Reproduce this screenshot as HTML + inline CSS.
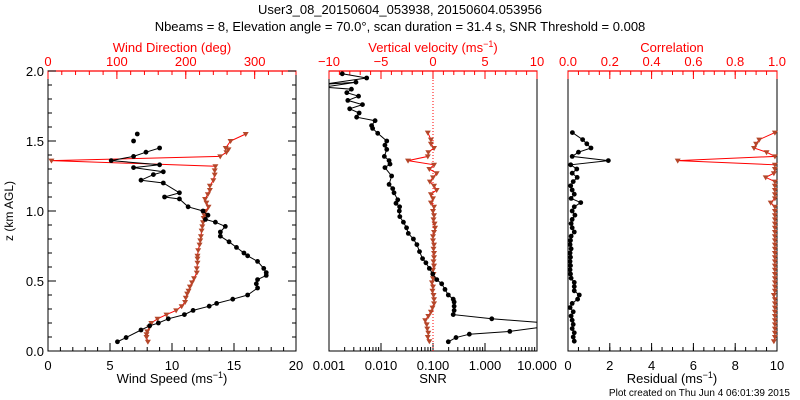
<!DOCTYPE html>
<html><head><meta charset="utf-8"><style>
html,body{margin:0;padding:0;background:#fff}
svg{display:block}
text{font-family:"Liberation Sans",sans-serif}
</style></head><body>
<svg id="c" width="800" height="400" viewBox="0 0 800 400">
<defs><clipPath id="clip2"><rect x="329" y="71" width="208" height="280"/></clipPath></defs>
<text x="400" y="14" text-anchor="middle" font-size="13">User3_08_20150604_053938, 20150604.053956</text>
<text x="400" y="31" text-anchor="middle" font-size="13">Nbeams = 8, Elevation angle = 70.0°, scan duration = 31.4 s, SNR Threshold = 0.008</text>
<text transform="translate(13,211) rotate(-90)" text-anchor="middle" font-size="12">z (km AGL)</text>
<text x="790" y="396" text-anchor="end" font-size="10">Plot created on Thu Jun  4 06:01:39 2015</text>
<g id="g"></g>
</svg>
<script>
// Panel 1 data
const wsZ = [0.066,0.096,0.15,0.18,0.2,0.23,0.26,0.29,0.32,0.34,0.37,0.4,0.45,0.48,0.51,0.54,0.56,0.59,0.64,0.68,0.70,0.74,0.78,0.82,0.85,0.89,0.92,0.94,0.97,1.0,1.03,1.086,1.1,1.13,1.2,1.22,1.26,1.28,1.31,1.33,1.36,1.39,1.42,1.45];
const windSpeed = [5.6,6.3,7.5,8.2,8.9,9.7,11,11.7,13,13.6,14.9,16.1,16.9,16.8,16.9,17.6,17.6,17.4,16.9,16.1,15.8,15.2,14.6,13.9,13.9,14.3,13.5,12.7,12.9,12.5,11.3,10.6,9.4,10.6,9.3,7.5,8.5,9.3,6.9,9.0,5.1,6.9,7.9,9.0];
const wsIsoZ = [1.5,1.55];
const wsIso = [6.9,7.2];
const wdZ = [0.066,0.1,0.12,0.14,0.17,0.2,0.23,0.26,0.29,0.32,0.35,0.38,0.41,0.43,0.46,0.49,0.52,0.56,0.59,0.63,0.66,0.68,0.72,0.76,0.79,0.82,0.86,0.89,0.92,0.95,0.97,1.0,1.03,1.06,1.086,1.12,1.15,1.18,1.22,1.26,1.29,1.32,1.36,1.39,1.42,1.44,1.45,1.5,1.55];
const windDir = [145,143,143,144,147,150,159,172,186,194,199,200,202,204,206,209,212,216,216,217,217,217,218,220,221,222,223,224,225,226,227,229,233,230,228,232,235,235,240,242,242,243,5,250,259,262,258,265,287];
// Panel 2 data
const snrZ = [0.066,0.096,0.12,0.14,0.17,0.2,0.23,0.26,0.29,0.32,0.35,0.37,0.40,0.44,0.48,0.51,0.55,0.59,0.63,0.66,0.71,0.76,0.80,0.84,0.88,0.92,0.96,1.0,1.03,1.055,1.08,1.13,1.16,1.19,1.25,1.31,1.335,1.36,1.39,1.44,1.47,1.50,1.555,1.59,1.61,1.645,1.67,1.70,1.73,1.76,1.79,1.82,1.845,1.87,1.885,1.92,1.905,1.95,1.98];
const snr = [0.197,0.277,0.50,3.0,12,15,1.35,0.245,0.255,0.255,0.255,0.245,0.197,0.17,0.147,0.118,0.099,0.085,0.073,0.063,0.055,0.049,0.042,0.0335,0.031,0.027,0.023,0.0225,0.0228,0.0194,0.021,0.0178,0.0168,0.0143,0.016,0.0119,0.0149,0.0143,0.0116,0.0129,0.0119,0.0129,0.00865,0.0069,0.0066,0.0077,0.0034,0.0038,0.0025,0.0044,0.0023,0.0037,0.0022,0.0027,0.0008,0.0033,0.0008,0.0053,0.0018];
const gridZ = [0.07,0.10,0.13,0.16,0.19,0.22,0.25,0.28,0.31,0.34,0.37,0.40,0.43,0.46,0.49,0.52,0.55,0.58,0.61,0.64,0.67,0.70,0.73,0.76,0.79,0.82,0.85,0.88,0.91,0.94,0.97,1.00,1.03,1.06,1.09,1.12,1.15,1.18,1.21,1.24,1.27,1.30,1.33,1.36,1.39,1.42,1.45,1.48,1.51,1.56];
const vertVel = [-0.35,-0.5,-0.45,-0.55,-0.6,-0.75,-0.45,-0.2,-0.05,0.1,0.1,0.05,-0.05,0,-0.1,0,0.05,0,0.1,0.05,0.1,0.1,0.05,0.1,0,0,0.1,0.2,0.15,0.05,0.1,0,0.1,-0.2,0,-0.2,0.35,0.1,-0.3,0,0.35,-0.35,0.1,-2.4,-0.5,-0.45,0.1,-0.2,-0.2,-0.5];
// Panel 3 data
const residual = [0.3,0.25,0.3,0.2,0.25,0.2,0.15,0.25,0.1,0.2,0.46,0.54,0.3,0.3,0.3,0.15,0.12,0.1,0.12,0.1,0.12,0.1,0.15,0.1,0.12,0.15,0.3,0.2,0.15,0.2,0.33,0.2,0.3,0.61,0.15,0.3,0.2,0.13,0.25,0.44,0.2,0.42,0.13,1.93,0.2,0.5,1.1,0.9,0.7,0.21];
const correlation = [0.985,0.99,0.99,0.99,0.99,0.99,0.99,0.99,0.99,0.99,0.99,0.985,0.99,0.99,0.99,0.99,0.99,0.99,0.99,0.99,0.99,0.99,0.99,0.99,0.99,0.99,0.99,0.99,0.99,0.99,0.99,0.99,0.99,0.97,0.99,0.99,0.99,0.99,0.99,0.946,0.985,0.99,0.99,0.525,0.99,0.95,0.89,0.9,0.915,0.99];
const wsTicks = ["0","5","10","15","20"];
const wdTicks = ["0","100","200","300"];
const snrTicks = ["0.001","0.010","0.100","1.000","10.000"];
const vvTicks = ["\u221210","\u22125","0","5","10"];
const resTicks = ["0","2","4","6","8","10"];
const corTicks = ["0.0","0.2","0.4","0.6","0.8","1.0"];
const zTicks = ["0.0","0.5","1.0","1.5","2.0"];

const NS='http://www.w3.org/2000/svg';
const G=document.getElementById('g');
const Y0=351,Y1=71;
const yS=z=>Y0-(z/2)*(Y0-Y1);
function mk(tag,at,parent){const e=document.createElementNS(NS,tag);for(const k in at)e.setAttribute(k,at[k]);(parent||G).appendChild(e);return e;}
function lin(a,b,x0,x1){return v=>x0+(v-a)/(b-a)*(x1-x0);}
function logS(a,b,x0,x1){return v=>x0+(Math.log10(v)-Math.log10(a))/(Math.log10(b)-Math.log10(a))*(x1-x0);}
const P=[{x0:48,x1:296},{x0:329,x1:537},{x0:568,x1:777}];
const xWS=lin(0,20,48,296), xWD=lin(0,360,48,296);
const xSNR=logS(0.001,10,329,537), xVV=lin(-10,10,329,537);
const xRES=lin(0,10,568,777), xCOR=lin(0,1,568,777);

function frame(p,name){const r=mk('rect',{x:p.x0,y:Y1,width:p.x1-p.x0,height:Y0-Y1,fill:'none',stroke:'#000','stroke-width':1});


mk('line',{x1:p.x0,y1:Y1,x2:p.x1,y2:Y1,stroke:'#f00','stroke-width':1.2});}
frame(P[0],'wind-panel-frame');frame(P[1],'snr-panel-frame');frame(P[2],'residual-panel-frame');

function txt(x,y,s,col,anchor,size,name){const t=mk('text',{x:x,y:y,fill:col,'text-anchor':anchor||'middle','font-size':size||13});t.textContent=s;

return t;}
// bottom axes
function bottomAxis(labels,vals,sc,minor,name){
 vals.forEach((v,i)=>{const x=sc(v);mk('line',{x1:x,y1:Y0,x2:x,y2:Y0-8,stroke:'#000'});txt(x,Y0+19,labels[i],'#000','middle',13,name+'-tick');});
 minor.forEach(v=>{const x=sc(v);mk('line',{x1:x,y1:Y0,x2:x,y2:Y0-4,stroke:'#000'});});}
function topAxis(labels,vals,sc,minor,name){
 vals.forEach((v,i)=>{const x=sc(v);mk('line',{x1:x,y1:Y1,x2:x,y2:Y1+8,stroke:'#f00'});txt(x,Y1-5,labels[i],'#f00','middle',13,name+'-tick');});
 minor.forEach(v=>{const x=sc(v);mk('line',{x1:x,y1:Y1,x2:x,y2:Y1+4,stroke:'#f00'});});}
const rng=(a,b,s)=>{const o=[];for(let v=a;v<=b+1e-9;v+=s)o.push(+v.toFixed(4));return o;};
bottomAxis(wsTicks,wsTicks.map(Number),xWS,rng(0,20,1),'wind-speed');
topAxis(wdTicks,wdTicks.map(Number),xWD,rng(0,360,20),'wind-direction');
const snrMinor=[];for(let d=-3;d<1;d++)for(let k=2;k<10;k++)snrMinor.push(k*Math.pow(10,d));
bottomAxis(snrTicks,snrTicks.map(Number),xSNR,snrMinor,'snr');
topAxis(vvTicks,[-10,-5,0,5,10],xVV,rng(-10,10,1),'vertical-velocity');
bottomAxis(resTicks,resTicks.map(Number),xRES,rng(0,10,0.5),'residual');
topAxis(corTicks,corTicks.map(Number),xCOR,rng(0,1,0.05),'correlation');
// y axis panel 1
zTicks.forEach(s=>{const y=yS(+s);mk('line',{x1:48,y1:y,x2:56,y2:y,stroke:'#000'});mk('line',{x1:296,y1:y,x2:288,y2:y,stroke:'#000'});txt(44,y+5,s,'#000','end',13,'z-tick');});
rng(0,2,0.1).forEach(v=>{const y=yS(v);mk('line',{x1:48,y1:y,x2:52,y2:y,stroke:'#000'});mk('line',{x1:296,y1:y,x2:292,y2:y,stroke:'#000'});});
// titles
txt(172,383,'Wind Speed (ms','#000','middle',13,'wind-speed-title').innerHTML='Wind Speed (ms<tspan dy="-5" font-size="9">\u22121</tspan><tspan dy="5">)</tspan>';
txt(172,52,'Wind Direction (deg)','#f00','middle',13,'wind-direction-title');
txt(433,383,'SNR','#000','middle',13,'snr-title');
txt(433,52,'','#f00','middle',13,'vertical-velocity-title').innerHTML='Vertical velocity (ms<tspan dy="-5" font-size="9">\u22121</tspan><tspan dy="5">)</tspan>';
txt(672,383,'','#000','middle',13,'residual-title').innerHTML='Residual (ms<tspan dy="-5" font-size="9">\u22121</tspan><tspan dy="5">)</tspan>';
txt(672,52,'Correlation','#f00','middle',13,'correlation-title');
// zero line
const zl=mk('line',{x1:xVV(0),y1:Y1,x2:xVV(0),y2:Y0,stroke:'#f00','stroke-dasharray':'1,2'});



function series(xs,zs,sc,lineCol,markCol,tri,name,clip,noLine){
 const g=mk('g',clip?{'clip-path':'url(#clip2)'}:{});
 
 
 const pts=xs.map((v,i)=>[sc(v),yS(zs[i])]);
 if(!noLine)mk('polyline',{points:pts.map(p=>p.join(',')).join(' '),fill:'none',stroke:lineCol,'stroke-width':1},g);
 pts.forEach(p=>{if(tri)mk('path',{d:`M${p[0]-3},${p[1]-2}L${p[0]+3},${p[1]-2}L${p[0]},${p[1]+3}Z`,fill:markCol},g);
 else mk('circle',{cx:p[0],cy:p[1],r:2.4,fill:markCol},g);});
}
series(windDir,wdZ,xWD,'#f00','#b5472a',true,'wind-direction-series');
series(windSpeed,wsZ,xWS,'#000','#000',false,'wind-speed-series');
series(wsIso,wsIsoZ,xWS,'#000','#000',false,'wind-speed-isolated',false,true);
series(vertVel,gridZ,xVV,'#f00','#b5472a',true,'vertical-velocity-series',true);
series(snr,snrZ,xSNR,'#000','#000',false,'snr-series',true);
series(correlation,gridZ,xCOR,'#f00','#b5472a',true,'correlation-series');
series(residual,gridZ,xRES,'#000','#000',false,'residual-series');
</script>
</body></html>
